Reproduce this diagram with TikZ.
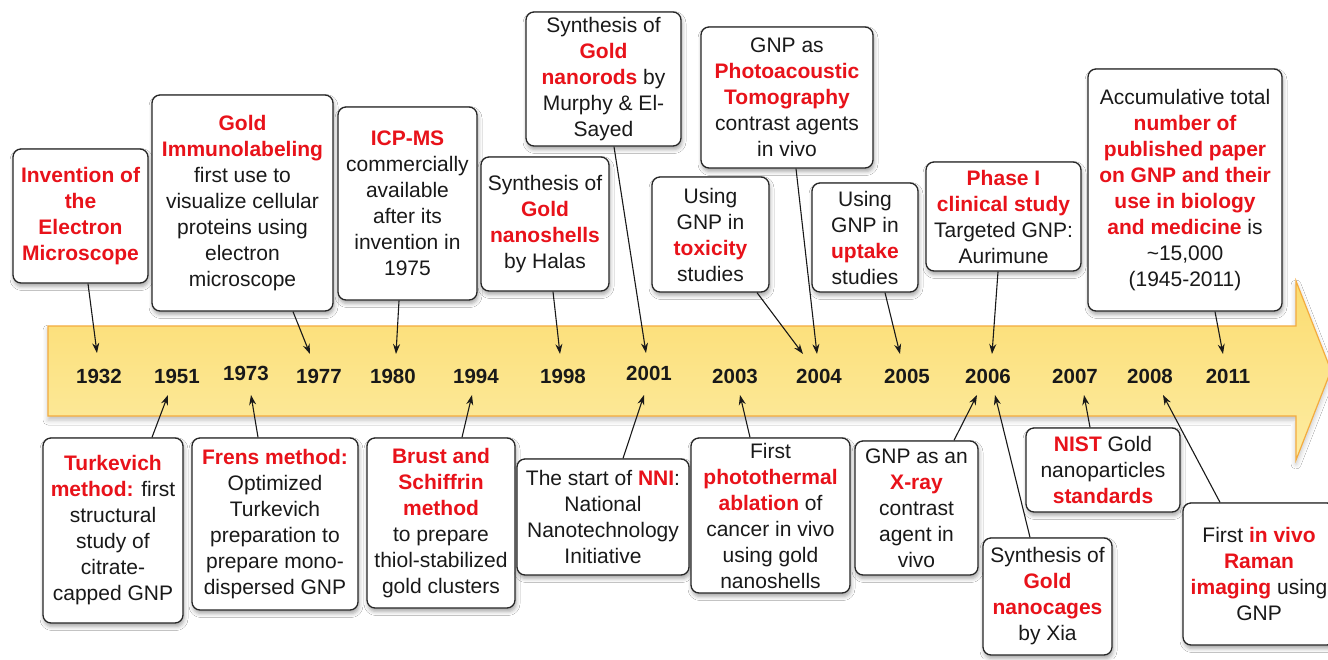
\documentclass[tikz,border=0pt]{standalone}
\usepackage{fontspec}
\setmainfont{Liberation Sans}
\usetikzlibrary{shadows.blur,arrows.meta}
\definecolor{gred}{RGB}{232,18,26}
\definecolor{txt}{RGB}{25,25,25}
\definecolor{bandtop}{RGB}{251,220,112}
\definecolor{bandbot}{RGB}{253,236,162}
\definecolor{bandedge}{RGB}{244,172,62}
\newcommand{\rtx}[1]{\textbf{\textcolor{gred}{#1}}}
\tikzset{
  evbox/.style={draw=black!85, line width=1.3pt, fill=white, rounded corners=8pt,
    align=center, inner sep=1pt, text=txt,
    font=\fontsize{21}{26}\selectfont,
    blur shadow={shadow xshift=1pt, shadow yshift=-3.5pt, shadow blur radius=4pt, shadow opacity=35}},
  yearlbl/.style={font=\bfseries\fontsize{20.5}{24}\selectfont, text=black!90, inner sep=0pt},
  conn/.style={line width=1.1pt, black!90, -{Stealth[length=10pt,width=7pt]}}
}
\begin{document}
\begin{tikzpicture}[x=1pt,y=-1pt]
\clip (0,0) rectangle (1328,659);
\fill[white] (0,0) rectangle (1328,659);
% timeline arrow
\path[blur shadow={shadow xshift=0pt, shadow yshift=-4pt, shadow blur radius=5pt, shadow opacity=25}, top color=bandtop, bottom color=bandbot, draw=bandedge, line width=1.2pt]
  (48,326) -- (1296,326) -- (1296,281) -- (1331,370.5) -- (1296,460) -- (1296,416) -- (48,416) -- cycle;
% years
\node[yearlbl] (y1932) at (99,376) {1932};
\node[yearlbl] (y1951) at (177,376) {1951};
\node[yearlbl] (y1973) at (246,373) {1973};
\node[yearlbl] (y1977) at (319,376) {1977};
\node[yearlbl] (y1980) at (393,376) {1980};
\node[yearlbl] (y1994) at (476,376) {1994};
\node[yearlbl] (y1998) at (563,376) {1998};
\node[yearlbl] (y2001) at (649,373) {2001};
\node[yearlbl] (y2003) at (735,376) {2003};
\node[yearlbl] (y2004) at (819,376) {2004};
\node[yearlbl] (y2005) at (907,376) {2005};
\node[yearlbl] (y2006) at (988,376) {2006};
\node[yearlbl] (y2007) at (1075,376) {2007};
\node[yearlbl] (y2008) at (1150,376) {2008};
\node[yearlbl] (y2011) at (1228,376) {2011};
% arrow tips
\coordinate (t1) at (97,353);
\coordinate (t2) at (310,354);
\coordinate (t3) at (396,354);
\coordinate (t4) at (560,354);
\coordinate (t5) at (646,353);
\coordinate (t6) at (803,354);
\coordinate (t7) at (817,354);
\coordinate (t8) at (900,354);
\coordinate (t9) at (992,354);
\coordinate (t10) at (1223,354);
\coordinate (b1) at (168,395);
\coordinate (b2) at (251,395);
\coordinate (b3) at (472,395);
\coordinate (b4) at (644,395);
\coordinate (b5) at (740,395);
\coordinate (b6) at (977,395);
\coordinate (b7) at (995,395);
\coordinate (b8) at (1084,395);
\coordinate (b9) at (1163,395);
% top boxes
\node[evbox, minimum width=135pt, minimum height=134pt] (inv) at (80.5,216)
  {\rtx{Invention of}\\\rtx{the}\\\rtx{Electron}\\\rtx{Microscope}};
\node[evbox, minimum width=181pt, minimum height=216pt] (imm) at (242.5,203)
  {\rtx{Gold}\\\rtx{Immunolabeling}\\first use to\\visualize cellular\\proteins using\\electron\\microscope};
\node[evbox, minimum width=139pt, minimum height=193pt] (icp) at (407.5,203.5)
  {\rtx{ICP-MS}\\commercially\\available\\after its\\invention in\\1975};
\node[evbox, minimum width=128pt, minimum height=134pt] (shells) at (545,224)
  {Synthesis of\\\rtx{Gold}\\\rtx{nanoshells}\\by Halas};
\node[evbox, minimum width=155pt, minimum height=134pt] (rods) at (603.5,79)
  {Synthesis of\\\rtx{Gold}\\\rtx{nanorods} by\\Murphy \& El-\\Sayed};
\node[evbox, minimum width=117pt, minimum height=115pt] (tox) at (710.5,234.5)
  {Using\\GNP in\\\rtx{toxicity}\\studies};
\node[evbox, minimum width=172pt, minimum height=141pt] (photo) at (787,97.5)
  {GNP as\\\rtx{Photoacoustic}\\\rtx{Tomography}\\contrast agents\\in vivo};
\node[evbox, minimum width=106pt, minimum height=109pt] (upt) at (865,237.5)
  {Using\\GNP in\\\rtx{uptake}\\studies};
\node[evbox, minimum width=155pt, minimum height=109pt] (phase) at (1003.5,216.5)
  {\rtx{Phase I}\\\rtx{clinical study}\\Targeted GNP:\\Aurimune};
\node[evbox, minimum width=194pt, minimum height=242pt] (acc) at (1185,190)
  {Accumulative total\\\rtx{number of}\\\rtx{published paper}\\\rtx{on GNP and their}\\\rtx{use in biology}\\\rtx{and medicine} is\\\textasciitilde15,000\\(1945-2011)};
% bottom boxes
\node[evbox, minimum width=140pt, minimum height=185pt] (turk) at (113,530.5)
  {\rtx{Turkevich}\\\rtx{method:} first\\structural\\study of\\citrate-\\capped GNP};
\node[evbox, minimum width=166pt, minimum height=172pt] (frens) at (275,524)
  {\rtx{Frens method:}\\Optimized\\Turkevich\\preparation to\\prepare mono-\\dispersed GNP};
\node[evbox, minimum width=148pt, minimum height=170pt] (brust) at (441,523)
  {\rtx{Brust and}\\\rtx{Schiffrin}\\\rtx{method}\\to prepare\\thiol-stabilized\\gold clusters};
\node[evbox, minimum width=172pt, minimum height=116pt] (nni) at (603,517)
  {The start of \rtx{NNI}:\\National\\Nanotechnology\\Initiative};
\node[evbox, minimum width=159pt, minimum height=155pt] (ptt) at (770.5,515.5)
  {First\\\rtx{photothermal}\\\rtx{ablation} of\\cancer in vivo\\using gold\\nanoshells};
\node[evbox, minimum width=123pt, minimum height=134pt] (xray) at (916.5,508)
  {GNP as an\\\rtx{X-ray}\\contrast\\agent in\\vivo};
\node[evbox, minimum width=129pt, minimum height=117pt] (cages) at (1047.5,596.5)
  {Synthesis of\\\rtx{Gold}\\\rtx{nanocages}\\by Xia};
\node[evbox, minimum width=154pt, minimum height=84pt] (nist) at (1103,470)
  {\rtx{NIST} Gold\\nanoparticles\\\rtx{standards}};
\node[evbox, minimum width=152pt, minimum height=142pt] (raman) at (1259,574)
  {First \rtx{in vivo}\\\rtx{Raman}\\\rtx{imaging} using\\GNP};
% connectors
\draw[conn] ([xshift=7.5pt]inv.south) -- (t1);
\draw[conn] ([xshift=50.5pt]imm.south) -- (t2);
\draw[conn] ([xshift=-8.5pt]icp.south) -- (t3);
\draw[conn] ([xshift=8pt]shells.south) -- (t4);
\draw[conn] ([xshift=10.5pt]rods.south) -- (t5);
\draw[conn] ([xshift=46.5pt]tox.south) -- (t6);
\draw[conn] ([xshift=9pt]photo.south) -- (t7);
\draw[conn] ([xshift=20pt]upt.south) -- (t8);
\draw[conn] ([xshift=-5.5pt]phase.south) -- (t9);
\draw[conn] ([xshift=30pt]acc.south) -- (t10);
\draw[conn] ([xshift=39pt]turk.north) -- (b1);
\draw[conn] ([xshift=-17pt]frens.north) -- (b2);
\draw[conn] ([xshift=21pt]brust.north) -- (b3);
\draw[conn] ([xshift=20pt]nni.north) -- (b4);
\draw[conn] ([xshift=-20.5pt]ptt.north) -- (b5);
\draw[conn] ([xshift=37.5pt]xray.north) -- (b6);
\draw[conn] ([xshift=-17.5pt]cages.north) -- (b7);
\draw[conn] ([xshift=-13pt]nist.north) -- (b8);
\draw[conn] ([xshift=-39pt]raman.north) -- (b9);
\end{tikzpicture}
\end{document}
